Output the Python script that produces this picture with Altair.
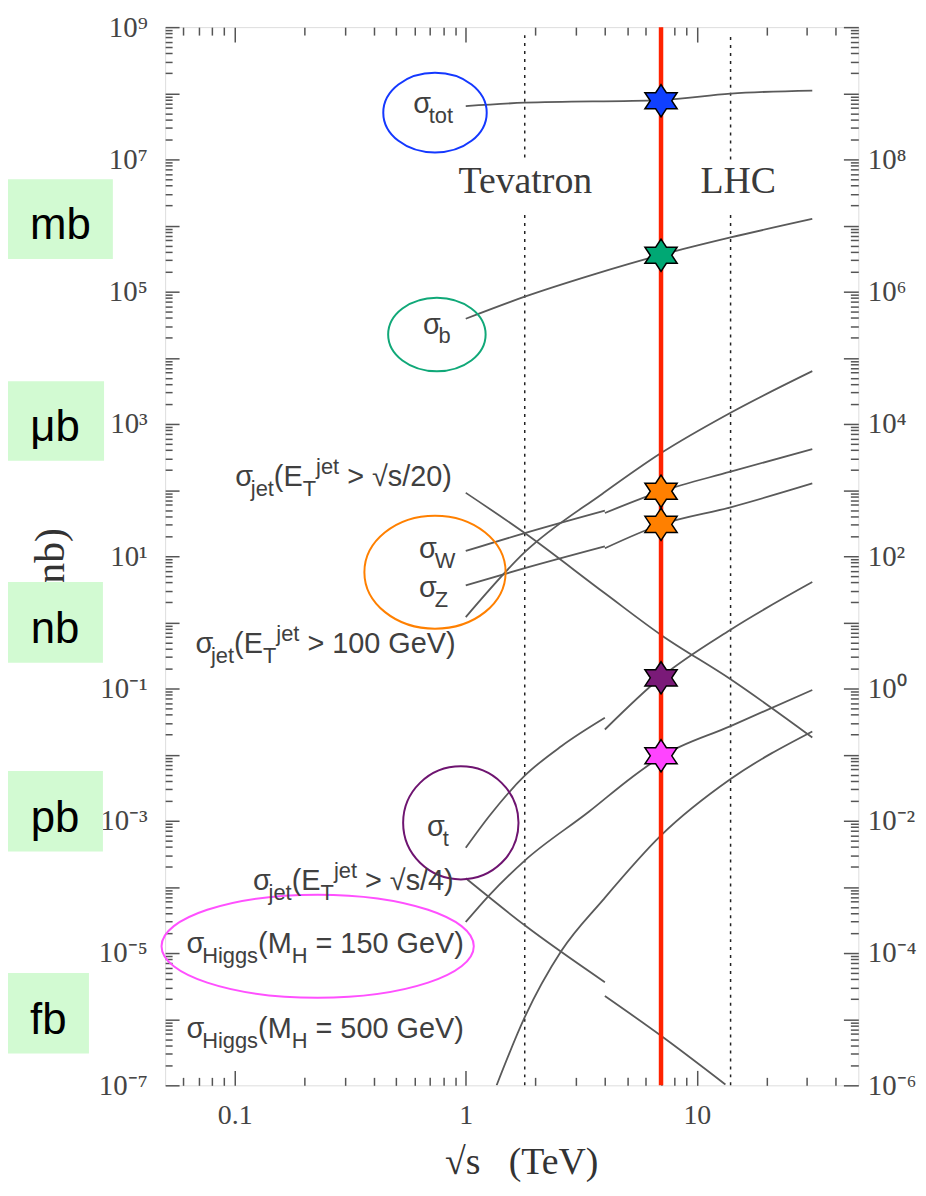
import math
import altair as alt
import pandas as pd

# ---------------- data (sqrt(s) in TeV, cross-section in nb) ----------------
tot_x = [1, 1.8, 7, 14, 31.6]
tot_y = [6.4e7, 7.2e7, 7.9e7, 9.9e7, 1.1e8]

b_x = [1, 1.8, 3.5, 7, 14, 31.6]
b_y = [3.9e4, 8.4e4, 1.78e5, 3.6e5, 6.6e5, 1.26e6]

jet100_x = [1, 1.8, 3.92, 7, 14, 31.6]
jet100_y = [1.2, 11.5, 89, 363, 1480, 6300]

w_ppbar_x = [1, 1.8, 4]
w_ppbar_y = [12.0, 22.4, 49]
w_pp_x = [4, 7, 14, 31.6]
w_pp_y = [45, 95.5, 190, 417]

z_ppbar_x = [1, 1.8, 4]
z_ppbar_y = [3.63, 6.6, 14.1]
z_pp_x = [4, 7, 14, 31.6]
z_pp_y = [13.2, 30.2, 55, 126]

jet20_x = [1, 1.8, 4, 7, 14, 31.6]
jet20_y = [91, 22.4, 2.75, 0.646, 0.138, 0.0182]

t_ppbar_x = [1, 1.27, 1.8, 2.6, 4]
t_ppbar_y = [3.9e-4, 1.2e-3, 4.8e-3, 1.35e-2, 3.6e-2]
t_pp_x = [4, 7, 14, 31.6]
t_pp_y = [0.024, 0.148, 0.776, 4.07]

jet4_ppbar_x = [1, 1.8, 4]
jet4_ppbar_y = [1.35e-4, 2.63e-5, 3.63e-6]
jet4_pp_x = [4, 7, 13.3]
jet4_pp_y = [2.24e-6, 5.62e-7, 1.03e-7]

h150_x = [1, 1.26, 1.8, 3.42, 5.26, 7, 14, 31.6]
h150_y = [2.95e-5, 7.4e-5, 2.5e-4, 1.38e-3, 4.6e-3, 9.3e-3, 2.7e-2, 9.5e-2]

h500_x = [1.36, 1.8, 2.59, 3.92, 7, 14, 31.6]
h500_y = [1.0e-7, 1.07e-6, 1.07e-5, 6.3e-5, 6.0e-4, 4.27e-3, 2.24e-2]

# LHC 7 TeV points (stars)
star_x = [7, 7, 7, 7, 7, 7]
star_y = [7.7e7, 3.56e5, 96, 30.3, 0.145, 9.6e-3]
star_col = ["#1040ff", "#00a874", "#ff8000", "#ff8000", "#7a1a78", "#ff44ff"]

lhc7 = [7]
tevatron_e = 1.8
lhc_e = 14

# unit boxes
units = ["mb", "μb", "nb", "pb", "fb"]
unit_val = [6.27e5, 555, 0.492, 6.84e-4, 6.05e-7]
unit_lo = [3.13e5, 278, 0.246, 3.42e-4, 3.03e-7]
unit_hi = [5.0e6, 4436, 4.06, 5.65e-3, 5.0e-6]
unit_x0 = [0.0104] * 5
unit_x1 = [0.0297, 0.0272, 0.0269, 0.0269, 0.0234]
unit_xc = [0.0176, 0.0167, 0.0167, 0.0167, 0.0156]

# axis ticks
x_major = [0.1, 1, 10]
x_minor = [k * 10.0 ** e for e in (-2, -1, 0, 1) for k in range(2, 10)
           if 0.05 < k * 10.0 ** e < 50]
y_major = [float(f"1e{e}") for e in range(-7, 10)]
y_minor = [float(f"{k}e{e}") for e in range(-7, 9) for k in range(2, 10)]
y_lab_left = [float(f"1e{e}") for e in range(9, -8, -2)]
y_lab_right = [float(f"1e{e}") for e in range(7, -8, -2)]

# ---------------- geometry ----------------
W, H = 697, 1064
X_DOM = [0.05, 50]
Y_DOM = [1e-7, 1e9]
PXX = W / math.log10(X_DOM[1] / X_DOM[0])
PXY = H / math.log10(Y_DOM[1] / Y_DOM[0])

xsc = alt.Scale(type="log", domain=X_DOM, nice=False)
ysc = alt.Scale(type="log", domain=Y_DOM, nice=False)

SERIF = "Liberation Serif"
SANS = "Liberation Sans"

# ---------------- curves ----------------
curve_list = [
    ("tot", tot_x, tot_y), ("b", b_x, b_y), ("jet100", jet100_x, jet100_y),
    ("W ppbar", w_ppbar_x, w_ppbar_y), ("W pp", w_pp_x, w_pp_y),
    ("Z ppbar", z_ppbar_x, z_ppbar_y), ("Z pp", z_pp_x, z_pp_y),
    ("jet20", jet20_x, jet20_y),
    ("t ppbar", t_ppbar_x, t_ppbar_y), ("t pp", t_pp_x, t_pp_y),
    ("jet4 ppbar", jet4_ppbar_x, jet4_ppbar_y), ("jet4 pp", jet4_pp_x, jet4_pp_y),
    ("H150", h150_x, h150_y), ("H500", h500_x, h500_y),
]
rows = []
for name, xs_, ys_ in curve_list:
    for xv, yv in zip(xs_, ys_):
        rows.append({"curve": name, "x": xv, "y": yv})
curves_df = pd.DataFrame(rows)

SUP = str.maketrans("0123456789-", "⁰¹²³⁴⁵⁶⁷⁸⁹⁻")


def exp_expr(values, shift):
    parts = []
    for v in values:
        e = round(math.log10(v))
        lab = "10" + str(e + shift).translate(SUP)
        parts.append(f"round(log(datum.value)/LN10) == {e} ? '{lab}'")
    return " : ".join(parts) + " : ''"


bottom_axis = alt.Axis(
    orient="bottom", values=x_major, format="~g", ticks=False, domain=False,
    grid=False, labelFlush=False, labelFont=SERIF, labelFontSize=28,
    labelColor="#444", labelPadding=16,
    title="√s\u00a0\u00a0\u00a0(TeV)", titleFont=SERIF, titleFontSize=38,
    titleFontWeight="normal", titleColor="#333", titleX=358, titleY=89,
    titleBaseline="alphabetic", titleAlign="center",
)
left_axis = alt.Axis(
    orient="left", values=y_lab_left, labelExpr=exp_expr(y_lab_left, 0), ticks=False,
    domain=False, grid=False, labelOverlap=False, labelFont=SERIF,
    labelFontSize=29, labelColor="#444", labelPadding=18,
    title="σ\u00a0\u00a0(nb)", titleFont=SERIF, titleFontSize=42,
    titleFontWeight="normal", titleColor="#333", titleAngle=270,
    titleX=-93, titleY=560, titleBaseline="bottom", titleAlign="center",
)
right_axis = alt.Axis(
    orient="right", values=y_lab_right, labelExpr=exp_expr(y_lab_right, 1), ticks=False,
    domain=False, grid=False, labelOverlap=False, labelFont=SERIF,
    labelFontSize=29, labelColor="#444", labelPadding=9, title=None,
)

lines = alt.Chart(curves_df).mark_line(
    color="#5a5a5a", strokeWidth=1.8, interpolate="monotone", clip=True
).encode(
    x=alt.X("x:Q", scale=xsc, axis=bottom_axis),
    y=alt.Y("y:Q", scale=ysc, axis=left_axis),
    detail="curve:N",
)

# ---------------- tick-only axes (inward ticks) ----------------
dummy = pd.DataFrame({"x": [1.0], "y": [1.0]})


def tick_axis(orient, values, size, offset):
    return alt.Axis(orient=orient, values=values, tickSize=size, offset=offset,
                    labels=False, domain=False, grid=False, ticks=True,
                    tickColor="#555", tickWidth=1.5, title=None)


def tick_layer(xa, ya):
    return alt.Chart(dummy).mark_point(opacity=0).encode(
        x=alt.X("x:Q", scale=xsc, axis=xa),
        y=alt.Y("y:Q", scale=ysc, axis=ya),
    )


tick_layers = [
    tick_layer(tick_axis("top", x_major, 15, -H), tick_axis("right", y_major, 14, -W)),
    tick_layer(tick_axis("top", x_minor, 8, -H), tick_axis("right", y_minor, 7, -W)),
    tick_layer(tick_axis("bottom", x_major, 15, -H), tick_axis("left", y_major, 15, -W)),
    tick_layer(tick_axis("bottom", x_minor, 8, -H), tick_axis("left", y_minor, 8, -W)),
]
right_labels = alt.Chart(dummy).mark_point(opacity=0).encode(
    x=alt.X("x:Q", scale=xsc, axis=None),
    y=alt.Y("y:Q", scale=ysc, axis=right_axis),
)

# ---------------- unit boxes ----------------
box_df = pd.DataFrame({"u": units, "x0": unit_x0, "x1": unit_x1, "lo": unit_lo,
                       "hi": unit_hi, "xc": unit_xc, "yv": unit_val})
boxes = alt.Chart(box_df).mark_rect(color="#d2fad2", clip=False).encode(
    x=alt.X("x0:Q", scale=xsc, axis=None), x2="x1:Q",
    y=alt.Y("lo:Q", scale=ysc, axis=None), y2="hi:Q",
)
box_text = alt.Chart(box_df).mark_text(
    font=SANS, fontSize=44, color="black", align="center", baseline="alphabetic", clip=False
).encode(
    x=alt.X("xc:Q", scale=xsc, axis=None),
    y=alt.Y("yv:Q", scale=ysc, axis=None),
    text="u:N",
)

# ---------------- reference lines ----------------
dot_df = pd.DataFrame({
    "x": [tevatron_e, tevatron_e, lhc_e, lhc_e],
    "y": [1e-7, 1.07e7, 1e-7, 1.0e7],
    "y2": [1.71e6, 9.0e8, 1.71e6, 7.6e8],
})
dotted = alt.Chart(dot_df).mark_rule(color="#222", strokeWidth=1.5, strokeDash=[3, 5]).encode(
    x=alt.X("x:Q", scale=xsc, axis=None),
    y=alt.Y("y:Q", scale=ysc, axis=None), y2="y2:Q",
)
red = alt.Chart(pd.DataFrame({"x": lhc7})).mark_rule(color="#ff2200", strokeWidth=4.5).encode(
    x=alt.X("x:Q", scale=xsc, axis=None)
)

coll_df = pd.DataFrame({"x": [1.81, 15.1], "y": [3.08e6, 3.08e6], "t": ["Tevatron", "LHC"]})
coll_text = alt.Chart(coll_df).mark_text(
    font=SERIF, fontSize=38, color="#3a3a3a", align="center", baseline="alphabetic"
).encode(
    x=alt.X("x:Q", scale=xsc, axis=None),
    y=alt.Y("y:Q", scale=ysc, axis=None),
    text="t:N",
)

# ---------------- ellipses ----------------
ell_x = [0.736, 0.750, 0.736, 0.952, 0.2286]
ell_y = [5.09e7, 2.25e4, 5.74, 9.3e-4, 1.27e-5]
ell_col = ["#1438ff", "#10a878", "#ff8000", "#6e1470", "#ff50ff"]
ell_w = [104, 98, 142, 116, 314]
ell_ratio = [0.77, 0.755, 0.80, 0.98, 0.33]


def ellipse_path(r):
    k = 0.5523
    return (f"M1,0 C1,{k*r:.4f} {k},{r:.4f} 0,{r:.4f} C{-k},{r:.4f} -1,{k*r:.4f} -1,0 "
            f"C-1,{-k*r:.4f} {-k},{-r:.4f} 0,{-r:.4f} C{k},{-r:.4f} 1,{-k*r:.4f} 1,0 Z")


ell_df = pd.DataFrame({
    "x": ell_x, "y": ell_y, "col": ell_col,
    "shape": [ellipse_path(r) for r in ell_ratio],
    "size": [w * w for w in ell_w],
})
ellipses = alt.Chart(ell_df).mark_point(filled=False, strokeWidth=2, opacity=1, clip=False).encode(
    x=alt.X("x:Q", scale=xsc, axis=None),
    y=alt.Y("y:Q", scale=ysc, axis=None),
    shape=alt.Shape("shape:N", scale=None),
    size=alt.Size("size:Q", scale=None),
    stroke=alt.Stroke("col:N", scale=None),
)

STAR = ("M0,-1 L0.333,-0.5 L1,-0.5 L0.667,0 L1,0.5 L0.333,0.5 L0,1 "
        "L-0.333,0.5 L-1,0.5 L-0.667,0 L-1,-0.5 L-0.333,-0.5 Z")
star_df = pd.DataFrame({"x": star_x, "y": star_y, "col": star_col})
stars = alt.Chart(star_df).mark_point(
    shape=STAR, filled=True, size=1050, stroke="black", strokeWidth=1.5, opacity=1, fillOpacity=1
).encode(
    x=alt.X("x:Q", scale=xsc, axis=None),
    y=alt.Y("y:Q", scale=ysc, axis=None),
    fill=alt.Fill("col:N", scale=None),
)

# ---------------- curve labels (with sub/superscripts) ----------------
ADV = {"σ": 0.54, "j": 0.222, "e": 0.556, "t": 0.278, "o": 0.556, "b": 0.556,
       "W": 0.944, "Z": 0.611, "H": 0.722, "i": 0.222, "g": 0.556, "s": 0.5,
       "(": 0.333, ")": 0.333, "E": 0.667, "T": 0.611, "M": 0.833, " ": 0.278,
       ">": 0.584, "=": 0.584, "√": 0.549, "/": 0.278, "G": 0.778, "V": 0.667}
MAIN, SUB = 29, 22


def seg_rows(x0, y0, segs):
    out, px = [], 0.0
    for text, kind in segs:
        fs = MAIN if kind == "m" else SUB
        dy = {"m": 0, "sub": 10, "sup": -12}[kind]
        lead = len(text) - len(text.lstrip(" "))
        px += lead * ADV[" "] * fs
        body = text.lstrip(" ")
        out.append({"x": x0 * 10 ** (px / PXX), "y": y0 * 10 ** (-dy / PXY),
                    "text": body.replace(" ", "\u00a0"), "fs": fs})
        px += sum(ADV.get(c, 0.556) for c in body) * fs
    return out


def jet(tail):
    return [("σ", "m"), ("jet", "sub"), ("(E", "m"), ("T", "sub"), ("jet", "sup"), (tail, "m")]


def higgs(tail):
    return [("σ", "m"), ("Higgs", "sub"), ("(M", "m"), ("H", "sub"), (tail, "m")]


label_x = [0.592, 0.653, 0.628, 0.628, 0.1005, 0.0676, 0.680, 0.120, 0.0619, 0.0619]
label_y = [5.09e7, 2.33e4, 9.33, 2.42, 117, 0.348, 5.94e-4, 8.85e-5, 1.0e-5, 5.27e-7]
label_segs = [
    [("σ", "m"), ("tot", "sub")],
    [("σ", "m"), ("b", "sub")],
    [("σ", "m"), ("W", "sub")],
    [("σ", "m"), ("Z", "sub")],
    jet(" > √s/20)"),
    jet(" > 100 GeV)"),
    [("σ", "m"), ("t", "sub")],
    jet(" > √s/4)"),
    higgs(" = 150 GeV)"),
    higgs(" = 500 GeV)"),
]
lab_rows = []
for lx, ly, sg in zip(label_x, label_y, label_segs):
    lab_rows += seg_rows(lx, ly, sg)
lab_df = pd.DataFrame(lab_rows)
labels = alt.Chart(lab_df).mark_text(
    font=SANS, color="#404040", align="left", baseline="alphabetic", clip=False
).encode(
    x=alt.X("x:Q", scale=xsc, axis=None),
    y=alt.Y("y:Q", scale=ysc, axis=None),
    text="text:N",
    size=alt.Size("fs:Q", scale=None),
)

chart = alt.layer(
    boxes, box_text, dotted, lines, red, ellipses, stars, labels, coll_text,
    *tick_layers, right_labels,
).resolve_axis(x="independent", y="independent").properties(
    width=W, height=H,
    autosize=alt.AutoSizeParams(type="none"),
    padding={"left": 158, "top": 16, "right": 60, "bottom": 100},
).configure_view(stroke="#555", strokeWidth=2).configure(background="white")

chart.save("out.html", embed_options={"renderer": "svg", "actions": False})
